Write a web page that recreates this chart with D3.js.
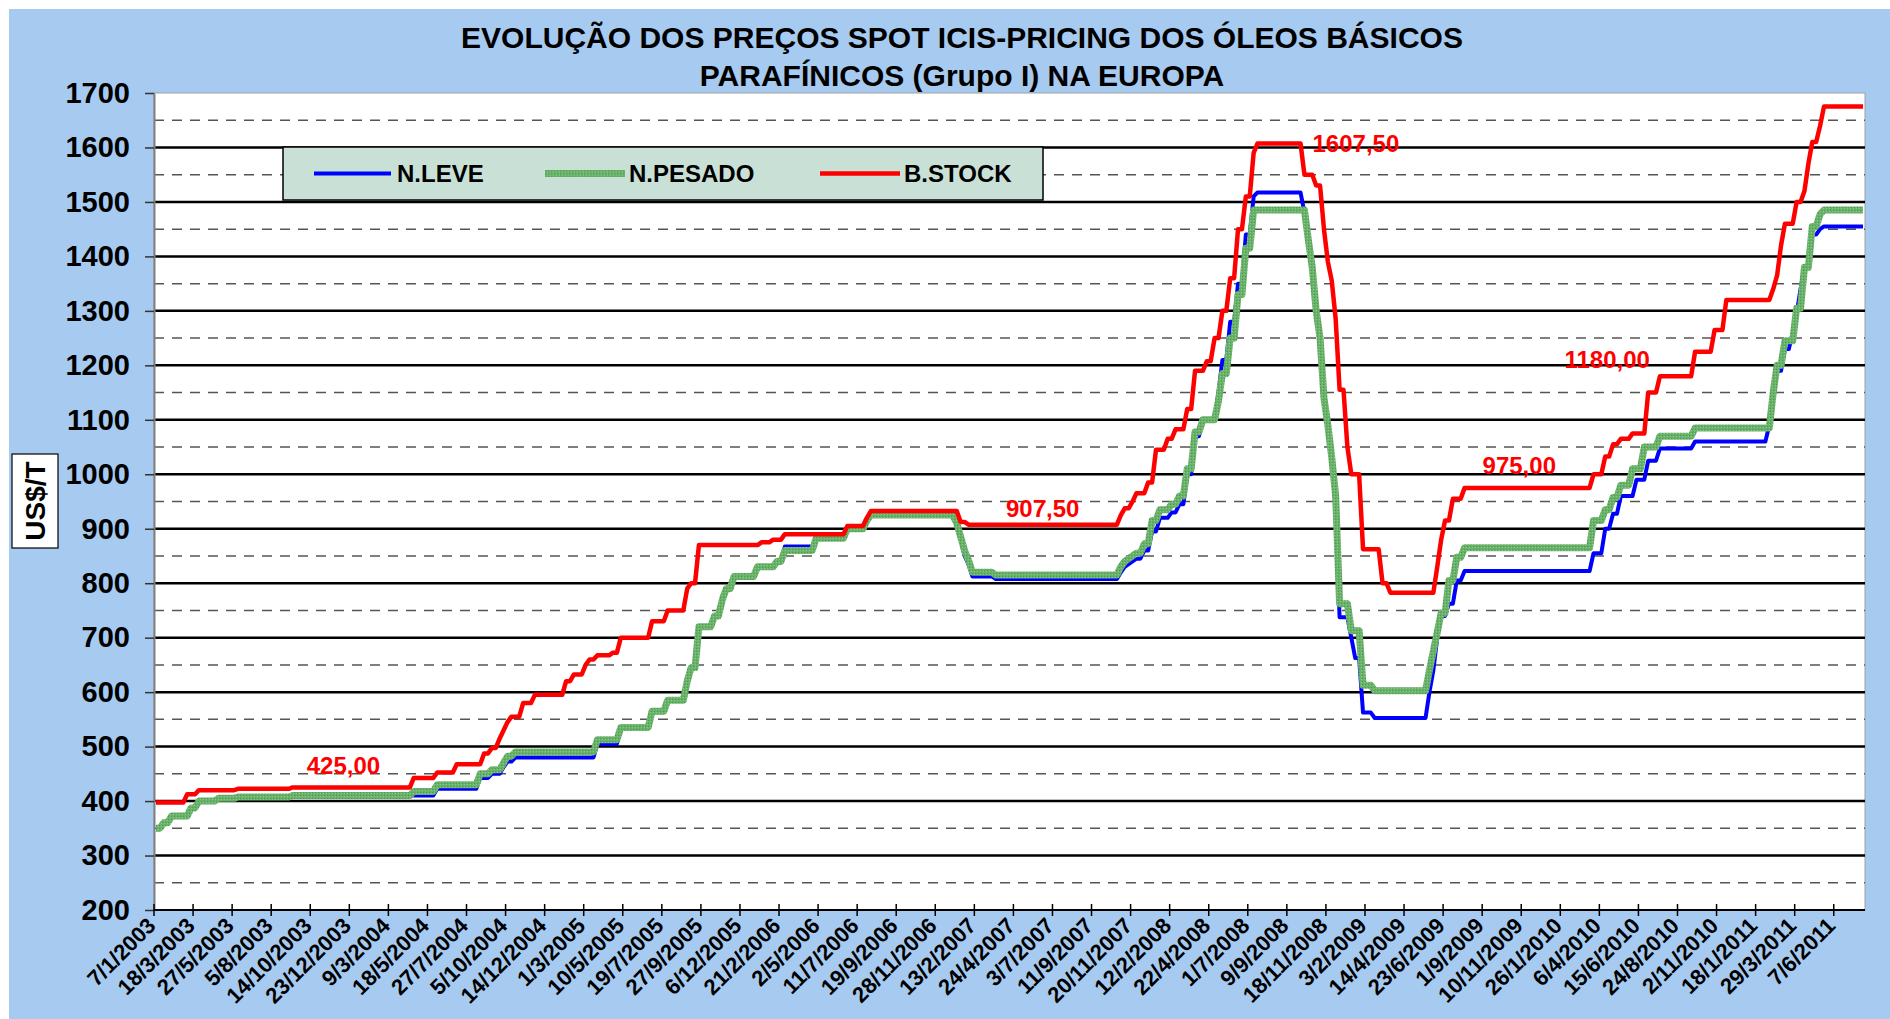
<!DOCTYPE html>
<html>
<head>
<meta charset="utf-8">
<script src="https://cdnjs.cloudflare.com/ajax/libs/d3/7.8.5/d3.min.js"></script>
<style>
  body { margin: 0; background: #fff; }
  svg text { font-family: 'Liberation Sans', Arial, sans-serif; font-weight: bold; }
</style>
</head>
<body>
<svg id="chart"></svg>
<script>
// dados ----------------------------------------------------------------------------------------
const titleLines = ['EVOLUÇÃO DOS PREÇOS SPOT ICIS-PRICING DOS ÓLEOS BÁSICOS', 'PARAFÍNICOS (Grupo I) NA EUROPA'];
const yTitle = 'US$/T';
const weekCount = 438;
const labelEvery = 10;
const weekLabels = [
  '7/1/2003', '18/3/2003', '27/5/2003', '5/8/2003', '14/10/2003', '23/12/2003', '9/3/2004', '18/5/2004',
  '27/7/2004', '5/10/2004', '14/12/2004', '1/3/2005', '10/5/2005', '19/7/2005', '27/9/2005', '6/12/2005',
  '21/2/2006', '2/5/2006', '11/7/2006', '19/9/2006', '28/11/2006', '13/2/2007', '24/4/2007', '3/7/2007',
  '11/9/2007', '20/11/2007', '12/2/2008', '22/4/2008', '1/7/2008', '9/9/2008', '18/11/2008', '3/2/2009',
  '14/4/2009', '23/6/2009', '1/9/2009', '10/11/2009', '26/1/2010', '6/4/2010', '15/6/2010', '24/8/2010',
  '2/11/2010', '18/1/2011', '29/3/2011', '7/6/2011'
];
const yDomain = [200, 1700];
const seriesNames = ['N.LEVE', 'N.PESADO', 'B.STOCK'];
// [semana, preço] : o preço vale a partir dessa semana
const nLeve = [
  [0, 350], [2, 360], [4, 372.5], [9, 387.5], [11, 400], [16, 405], [21, 407.5], [35, 410],
  [72, 422.5], [83, 442.5], [86, 450], [89, 462.5], [90, 472.5], [92, 480],
  [113, 505], [119, 535], [127, 565], [131, 585], [136, 620], [137, 645], [139, 720], [143, 740], [145, 770],
  [146, 790], [148, 812.5], [154, 830], [159, 840], [161, 867.5], [169, 882.5], [177, 900], [182, 915], [183, 925],
  [205, 905], [206, 880], [207, 850], [208, 835], [209, 812.5], [215, 807.5],
  [247, 820], [248, 830], [249, 835], [250, 840], [251, 845], [253, 860], [255, 895], [257, 920], [260, 930],
  [262, 945], [264, 1000], [266, 1070], [268, 1100], [272, 1150], [273, 1210], [275, 1280], [277, 1350],
  [279, 1440], [281, 1510], [282, 1517.5],
  [294, 1480], [295, 1430], [296, 1380], [297, 1290], [298, 1240], [299, 1140], [300, 1080], [301, 1020],
  [302, 940], [303, 737.5], [306, 700], [307, 662.5], [309, 562.5], [312, 552.5],
  [326, 600], [327, 640], [328, 700], [329, 740], [331, 762.5], [333, 805], [335, 822.5],
  [368, 855], [371, 900], [373, 927.5], [375, 960], [379, 990], [382, 1025], [385, 1047.5], [394, 1060],
  [413, 1090], [414, 1140], [415, 1190], [417, 1230], [419, 1260], [420, 1295], [421, 1340], [422, 1380],
  [424, 1440], [426, 1450], [427, 1455]
];
const nPesado = [
  [0, 350], [2, 360], [4, 372.5], [9, 387.5], [11, 400], [16, 405], [21, 407.5], [35, 410],
  [66, 417.5], [72, 430], [83, 450], [86, 457.5], [89, 470], [90, 482.5], [92, 490],
  [113, 512.5], [119, 535], [127, 565], [131, 585], [136, 620], [137, 645], [139, 720], [143, 740], [145, 770],
  [146, 790], [148, 812.5], [154, 830], [159, 840], [161, 860], [169, 882.5], [177, 900], [182, 915], [183, 925],
  [205, 910], [206, 885], [207, 860], [208, 842.5], [209, 820], [215, 815],
  [247, 830], [248, 840], [249, 845], [250, 850], [251, 855], [253, 872.5], [255, 915], [257, 935], [260, 945],
  [262, 960], [264, 1010], [266, 1077.5], [268, 1100], [272, 1135], [273, 1185], [275, 1250], [277, 1330],
  [279, 1415], [281, 1485],
  [295, 1430], [296, 1380], [297, 1300], [298, 1250], [299, 1140], [300, 1090], [301, 1030], [302, 960],
  [303, 762.5], [306, 712.5], [309, 612.5], [312, 602.5],
  [326, 640], [327, 675], [328, 710], [329, 745], [331, 805], [333, 847.5], [335, 865],
  [368, 915], [371, 935], [373, 957.5], [375, 980], [378, 1010], [381, 1050], [385, 1070], [394, 1085],
  [414, 1150], [415, 1200], [417, 1245], [420, 1305], [422, 1380], [424, 1455], [426, 1477.5], [427, 1485]
];
const bStock = [
  [0, 397.5], [8, 412.5], [11, 420], [21, 422.5], [35, 425], [66, 442.5], [72, 452.5], [77, 467.5], [84, 487.5],
  [86, 497.5], [88, 515], [89, 530], [90, 545], [91, 555], [94, 580], [97, 595],
  [105, 620], [107, 632.5], [110, 650], [111, 660], [113, 667.5], [117, 672.5], [119, 700], [127, 730], [131, 750],
  [136, 790], [137, 800], [139, 870], [155, 875], [158, 880], [161, 890], [177, 905], [182, 920], [183, 932.5],
  [206, 912.5], [208, 907.5],
  [247, 925], [248, 937.5], [250, 950], [251, 965], [254, 985], [256, 1045], [259, 1065], [261, 1082.5],
  [264, 1120], [266, 1190], [269, 1207.5], [271, 1250], [273, 1300], [275, 1360], [277, 1450], [279, 1510],
  [281, 1590], [282, 1607.5],
  [294, 1550], [297, 1530], [299, 1450], [300, 1390], [301, 1355], [302, 1285], [303, 1155], [305, 1050],
  [306, 1000], [309, 862.5], [314, 800], [316, 782.5],
  [328, 830], [329, 880], [330, 915], [332, 955], [335, 975],
  [368, 1000], [371, 1032.5], [373, 1055], [375, 1065], [378, 1075], [382, 1150], [385, 1180], [394, 1225],
  [399, 1265], [402, 1320], [414, 1340], [415, 1365], [416, 1420], [417, 1460], [420, 1500], [422, 1520],
  [423, 1570], [424, 1610], [426, 1640], [427, 1675]
];
// rótulos de valor da série B.STOCK
const valueLabels = [
  {week: 48, text: '425,00'},
  {week: 227, text: '907,50'},
  {week: 293, text: '1607,50'},
  {week: 349, text: '975,00'},
  {week: 385, text: '1180,00'}
];
// ---------------------------------------------------------------------------------------------
const width = 1890;
const height = 1019;
const plot = {left: 154, right: 1865, top: 93, bottom: 910};
const colors = ['#0000ff', 'url(#greenTex)', '#ff0000'];
const lineWidths = [4, 7, 4.5];

// semana a semana (o preço se mantém até a próxima mudança)
const expand = pts => d3.range(weekCount).map(i => {
  let v = pts[0][1];
  for (const p of pts) if (p[0] <= i) v = p[1];
  return {week: i, value: v};
});
const series = [nLeve, nPesado, bStock].map((pts, i) => ({name: seriesNames[i], values: expand(pts)}));

// SVG ------------------------------------------------------------------------------------------
const svg = d3.select('#chart')
  .attr('width', width)
  .attr('height', height)
  .attr('viewBox', '0 0 ' + width + ' ' + height);

const defs = svg.append('defs');
const pat = defs.append('pattern')
  .attr('id', 'greenTex')
  .attr('width', 3)
  .attr('height', 3)
  .attr('patternUnits', 'userSpaceOnUse');
pat.append('rect').attr('width', 3).attr('height', 3).attr('fill', '#69b269');
pat.append('rect').attr('width', 1).attr('height', 1).attr('fill', '#4d994d');
pat.append('rect').attr('x', 2).attr('y', 1).attr('width', 1).attr('height', 1).attr('fill', '#8cc88c');

svg.append('rect')
  .attr('x', 9)
  .attr('y', 9)
  .attr('width', width - 9)
  .attr('height', height - 9)
  .attr('fill', '#a6caf0');

// escalas -------------------------------------------------------------------------------------
const x = d3.scaleBand()
  .domain(d3.range(weekCount))
  .range([plot.left, plot.right])
  .paddingInner(0)
  .paddingOuter(0);
const y = d3.scaleLinear()
  .domain(yDomain)
  .range([plot.bottom, plot.top]);

svg.append('rect')
  .attr('x', plot.left)
  .attr('y', plot.top)
  .attr('width', plot.right - plot.left)
  .attr('height', plot.bottom - plot.top)
  .attr('fill', '#fff')
  .attr('stroke', '#a0a0a0')
  .attr('stroke-width', 1);

// grade -----------------------------------------------------------------------------------------
const majors = y.ticks(15);
const minors = majors.slice(0, -1).map(v => v + 50);
svg.append('g')
  .selectAll('line')
  .data(minors)
  .enter()
  .append('line')
  .attr('x1', plot.left)
  .attr('x2', plot.right)
  .attr('y1', d => y(d))
  .attr('y2', d => y(d))
  .attr('stroke', '#555')
  .attr('stroke-width', 1.5)
  .attr('stroke-dasharray', '10,8');
svg.append('g')
  .selectAll('line')
  .data(majors.filter(v => v > yDomain[0] && v < yDomain[1]))
  .enter()
  .append('line')
  .attr('x1', plot.left)
  .attr('x2', plot.right)
  .attr('y1', d => y(d))
  .attr('y2', d => y(d))
  .attr('stroke', '#000')
  .attr('stroke-width', 2.5);

// eixo Y --------------------------------------------------------------------------------------
const yAxis = svg.append('g')
  .attr('transform', 'translate(' + plot.left + ',0)')
  .call(d3.axisLeft(y).tickValues(majors).tickFormat(d3.format('d')).tickSize(9).tickSizeOuter(0).tickPadding(15));
yAxis.select('.domain').attr('stroke', '#808080').attr('stroke-width', 2);
yAxis.selectAll('.tick line').attr('stroke', '#333').attr('stroke-width', 1.5);
yAxis.selectAll('.tick text')
  .attr('font-size', '29px')
  .attr('font-family', "'Liberation Sans', Arial, sans-serif")
  .attr('font-weight', 'bold')
  .attr('fill', '#000');

// eixo X --------------------------------------------------------------------------------------
const tickWeeks = weekLabels.map((d, i) => i * labelEvery);
const xAxis = svg.append('g');
xAxis.append('line')
  .attr('x1', plot.left)
  .attr('x2', plot.right)
  .attr('y1', plot.bottom)
  .attr('y2', plot.bottom)
  .attr('stroke', '#000')
  .attr('stroke-width', 2);
xAxis.selectAll('.xtick')
  .data(tickWeeks)
  .enter()
  .append('line')
  .attr('class', 'xtick')
  .attr('x1', d => x(d))
  .attr('x2', d => x(d))
  .attr('y1', plot.bottom - 6)
  .attr('y2', plot.bottom + 6)
  .attr('stroke', '#000')
  .attr('stroke-width', 1.5);
xAxis.selectAll('.xlabel')
  .data(weekLabels)
  .enter()
  .append('text')
  .attr('class', 'xlabel')
  .attr('transform', (d, i) => 'translate(' + (x(tickWeeks[i]) + 3) + ',' + (plot.bottom + 17) + ') rotate(-45)')
  .attr('text-anchor', 'end')
  .attr('font-size', '22px')
  .text(d => d);

// séries --------------------------------------------------------------------------------------
const line = d3.line()
  .x(d => x(d.week) + x.bandwidth() / 2)
  .y(d => y(d.value));
svg.append('g')
  .selectAll('path')
  .data(series)
  .enter()
  .append('path')
  .attr('d', d => line(d.values))
  .attr('fill', 'none')
  .attr('stroke', (d, i) => colors[i])
  .attr('stroke-width', (d, i) => lineWidths[i])
  .attr('stroke-linejoin', 'round')
  .attr('stroke-linecap', 'butt');

// rótulos de valor -----------------------------------------------------------------------------
const labelOffsets = [
  {dx: 0, dy: -13, anchor: 'middle'},
  {dx: 0, dy: -8, anchor: 'middle'},
  {dx: 12, dy: 9, anchor: 'start'},
  {dx: 0, dy: -14, anchor: 'middle'},
  {dx: -10, dy: -8, anchor: 'end'}
];
const stockValues = series[2].values;
svg.append('g')
  .selectAll('text')
  .data(valueLabels)
  .enter()
  .append('text')
  .attr('x', (d, i) => x(d.week) + x.bandwidth() / 2 + labelOffsets[i].dx)
  .attr('y', (d, i) => y(stockValues[d.week].value) + labelOffsets[i].dy)
  .attr('text-anchor', (d, i) => labelOffsets[i].anchor)
  .attr('font-size', '24px')
  .attr('fill', '#ff0000')
  .text(d => d.text);

// legenda ---------------------------------------------------------------------------------------
const legend = svg.append('g').attr('transform', 'translate(283,147)');
legend.append('rect')
  .attr('width', 760)
  .attr('height', 53)
  .attr('fill', '#c9e0d6')
  .attr('stroke', '#000')
  .attr('stroke-width', 1.5);
const legendX = [31, 262, 537];
const legendItem = legend.selectAll('.item')
  .data(seriesNames)
  .enter()
  .append('g')
  .attr('class', 'item')
  .attr('transform', (d, i) => 'translate(' + legendX[i] + ',26.5)');
legendItem.append('line')
  .attr('x1', 0)
  .attr('x2', (d, i) => i === 0 ? 77 : 80)
  .attr('stroke', (d, i) => colors[i])
  .attr('stroke-width', (d, i) => lineWidths[i]);
legendItem.append('text')
  .attr('x', (d, i) => i === 0 ? 83 : 84)
  .attr('y', 8.5)
  .attr('font-size', '24px')
  .text(d => d);

// título ----------------------------------------------------------------------------------------
svg.append('g')
  .selectAll('text')
  .data(titleLines)
  .enter()
  .append('text')
  .attr('x', 962)
  .attr('y', (d, i) => 48 + i * 38)
  .attr('text-anchor', 'middle')
  .attr('font-size', '30px')
  .text(d => d);

// título do eixo Y -------------------------------------------------------------------------------
svg.append('rect')
  .attr('x', 12)
  .attr('y', 454)
  .attr('width', 46)
  .attr('height', 94)
  .attr('fill', '#fff')
  .attr('stroke', '#000')
  .attr('stroke-width', 1.2);
svg.append('text')
  .attr('transform', 'translate(45,501) rotate(-90)')
  .attr('text-anchor', 'middle')
  .attr('font-size', '28px')
  .text(yTitle);
</script>
</body>
</html>
